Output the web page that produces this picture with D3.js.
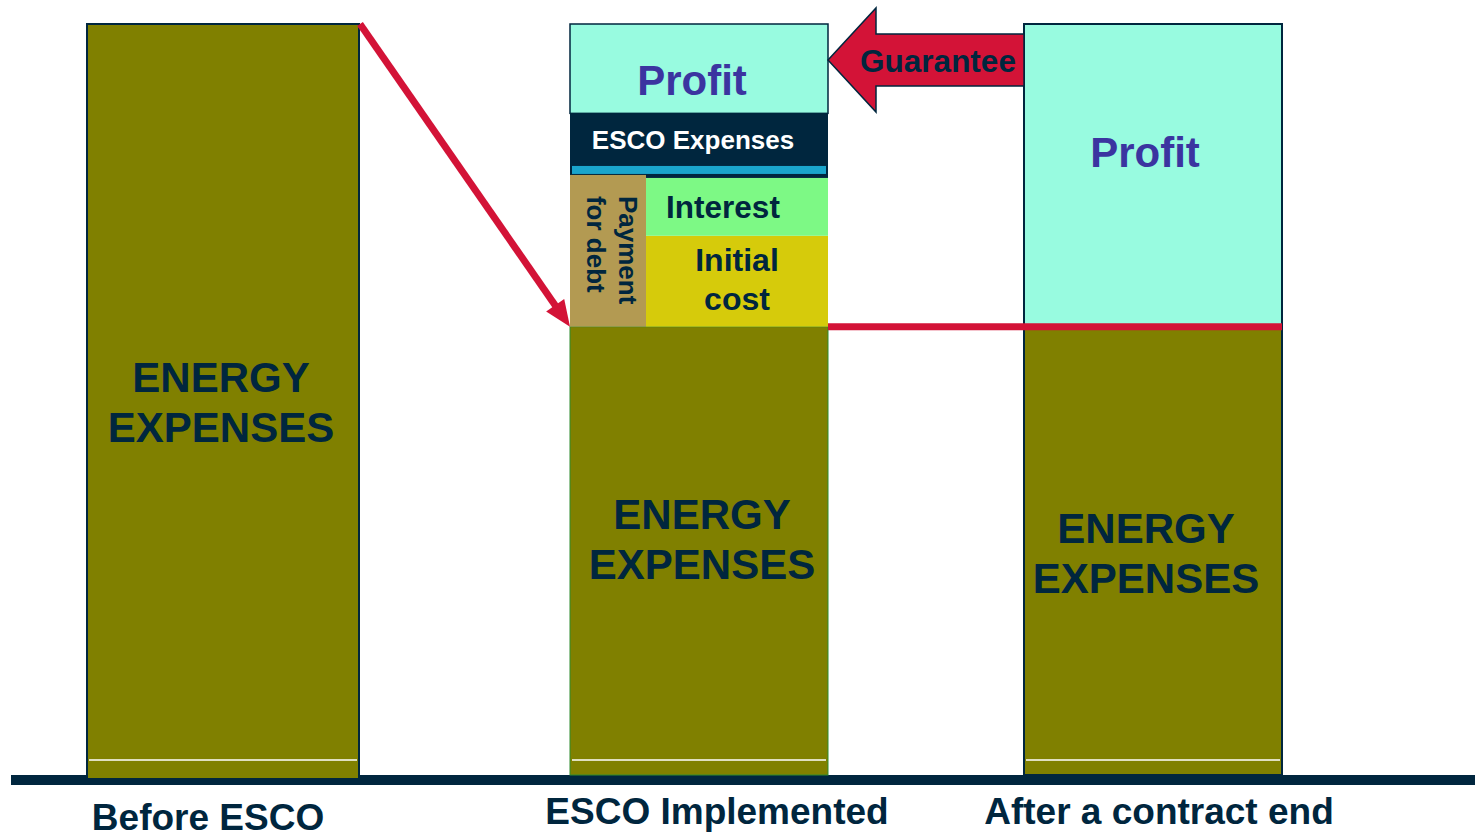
<!DOCTYPE html>
<html>
<head>
<meta charset="utf-8">
<script src="https://cdn.jsdelivr.net/npm/d3@7"></script>
<style>
  body { margin: 0; background: #fff; }
  svg { display: block; font-family: "Liberation Sans", Arial, sans-serif; font-weight: bold; }
</style>
</head>
<body>
<div id="chart"></div>
<script>
// data
const columns = ["Before ESCO", "ESCO Implemented", "After a contract end"];
const energyExpenses = [100, 59.7, 59.7];
const initialCost = [0, 12.1, 0];
const interest = [0, 7.7, 0];
const escoExpenses = [0, 8.6, 0];
const profit = [0, 11.9, 40.3];
const segmentKeys = ["energy", "initial", "interest", "esco", "profit"];
const segmentLabels = {
    energy: ["ENERGY", "EXPENSES"],
    initial: ["Initial", "cost"],
    interest: ["Interest"],
    esco: ["ESCO Expenses"],
    profit: ["Profit"]
};
const debtLabel = ["Payment", "for debt"];
const guaranteeLabel = "Guarantee";

// styles / layout
const navy = '#00263E', red = '#D31337';
const fills = { energy: '#808000', initial: '#D6CB0B', interest: '#7DF985', esco: '#00263E', profit: '#98FBE0' };
const textColor = { energy: navy, initial: navy, interest: navy, esco: '#FFFFFF', profit: '#3B34A0' };
const fontSize = { energy: 42, initial: 32, interest: 31.5, esco: 26, profit: 42 };
const lineH = { energy: 50, initial: 39, interest: 0, esco: 0, profit: 0 };
// label nudges [dx, dy] per key + column index
const nudge = {
    'energy-0': [-2, 2], 'energy-1': [3, -12], 'energy-2': [-7, 2],
    'profit-1': [-7, 11], 'profit-2': [-8, -23],
    'esco-1': [-6, -6], 'interest-1': [-14, 0], 'initial-1': [0, -2]
};
const debtColW = 76;

const width = 1475, height = 834;

const x = d3.scaleOrdinal().domain(columns).range([87, 570, 1024]);
const w = d3.scaleOrdinal().domain(columns).range([272, 258, 258]);
const overhang = d3.scaleOrdinal().domain(columns).range([4, 0, 0]);
const y = d3.scaleLinear().domain([0, 100]).range([775, 24]);

const rows = columns.map((c, i) => ({
    col: c, idx: i,
    energy: energyExpenses[i], initial: initialCost[i], interest: interest[i],
    esco: escoExpenses[i], profit: profit[i]
}));
const series = d3.stack().keys(segmentKeys)(rows);

const svg = d3.select('#chart').append('svg')
    .attr('width', width)
    .attr('height', height);

// baseline
svg.append('rect')
    .attr('x', 11).attr('y', y(0))
    .attr('width', width - 11).attr('height', 10)
    .attr('fill', navy);

// stacked segments
series.forEach(s => {
    const key = s.key;
    s.forEach(d => {
        if (d[1] - d[0] <= 0) return;
        const col = d.data.col;
        let x0 = x(col), sw = w(col);
        if (key == 'initial' || key == 'interest') { x0 += debtColW; sw -= debtColW; }
        const yTop = y(d[1]);
        const yBot = y(d[0]) + (key == 'energy' ? overhang(col) : 0);
        const r = svg.append('rect')
            .attr('x', x0).attr('y', yTop)
            .attr('width', sw).attr('height', yBot - yTop)
            .attr('fill', fills[key]);
        if (key == 'profit') r.attr('stroke', navy).attr('stroke-width', 1.5);
        if (key == 'energy' && d.data.idx == 1) r.attr('stroke', '#2E8B2E').attr('stroke-width', 1);
        if (key == 'esco') {
            // blue strip near the bottom of the ESCO block
            svg.append('rect')
                .attr('x', x0 + 2).attr('y', yBot - 12)
                .attr('width', sw - 4).attr('height', 8)
                .attr('fill', '#1AA5CC');
        }
        if (key == 'energy') {
            svg.append('line')
                .attr('x1', x0 + 2).attr('x2', x0 + sw - 2)
                .attr('y1', y(2)).attr('y2', y(2))
                .attr('stroke', '#fff').attr('stroke-width', 1.5);
        }
    });
});

// payment for debt column (spans initial + interest)
rows.forEach(r => {
    if (r.initial + r.interest <= 0) return;
    const yBot = y(r.energy), yTop = y(r.energy + r.initial + r.interest) - 3;
    svg.append('rect')
        .attr('x', x(r.col)).attr('y', yTop)
        .attr('width', debtColW).attr('height', yBot - yTop)
        .attr('fill', '#B39A52');
    const g = svg.append('g')
        .attr('transform', 'translate(' + x(r.col) + ',' + (yTop + 21) + ') rotate(90)');
    debtLabel.forEach((t, i) => {
        g.append('text')
            .attr('x', 0).attr('y', -49 + i * 32)
            .attr('font-size', 26)
            .attr('fill', navy)
            .text(t);
    });
});

// outlines for single-segment style bars
[0, 2].forEach(i => {
    const c = columns[i];
    svg.append('rect')
        .attr('x', x(c)).attr('y', y(100))
        .attr('width', w(c)).attr('height', y(0) + overhang(c) - y(100))
        .attr('fill', 'none')
        .attr('stroke', navy).attr('stroke-width', 2);
});

// segment labels
series.forEach(s => {
    const key = s.key;
    s.forEach(d => {
        if (d[1] - d[0] <= 0) return;
        const col = d.data.col;
        let x0 = x(col), sw = w(col);
        if (key == 'initial' || key == 'interest') { x0 += debtColW; sw -= debtColW; }
        const n = nudge[key + '-' + d.data.idx] || [0, 0];
        const cx = x0 + sw / 2 + n[0];
        const cy = (y(d[0]) + y(d[1])) / 2 + n[1];
        const lines = segmentLabels[key];
        lines.forEach((t, i) => {
            svg.append('text')
                .attr('x', cx)
                .attr('y', cy + (i - (lines.length - 1) / 2) * lineH[key] + 0.36 * fontSize[key])
                .attr('text-anchor', 'middle')
                .attr('font-size', fontSize[key])
                .attr('fill', textColor[key])
                .text(t);
        });
    });
});

// guarantee level line
const guaranteeY = y(energyExpenses[1]);
svg.append('line')
    .attr('x1', x(columns[1]) + w(columns[1]))
    .attr('x2', x(columns[2]) + w(columns[2]))
    .attr('y1', guaranteeY).attr('y2', guaranteeY)
    .attr('stroke', red).attr('stroke-width', 7);

// diagonal arrow from before bar to ESCO energy top
const p0 = [x(columns[0]) + w(columns[0]) + 1, y(energyExpenses[0])];
const p1 = [x(columns[1]), y(energyExpenses[1])];
const dx = p1[0] - p0[0], dy = p1[1] - p0[1];
const len = Math.sqrt(dx * dx + dy * dy);
const ux = dx / len, uy = dy / len;
const headL = 26, headW = 11;
const base = [p1[0] - ux * headL, p1[1] - uy * headL];
svg.append('line')
    .attr('x1', p0[0]).attr('y1', p0[1])
    .attr('x2', base[0] + ux * 2).attr('y2', base[1] + uy * 2)
    .attr('stroke', red).attr('stroke-width', 7);
svg.append('path')
    .attr('d', 'M' + p1[0] + ',' + p1[1] +
        'L' + (base[0] - uy * headW) + ',' + (base[1] + ux * headW) +
        'L' + (base[0] + uy * headW) + ',' + (base[1] - ux * headW) + 'Z')
    .attr('fill', red);

// guarantee arrow
const tipX = x(columns[1]) + w(columns[1]), tipY = 60;
const tailX = x(columns[2]);
const arrowPts = [
    [tipX, tipY], [tipX + 48, tipY - 52], [tipX + 48, tipY - 26],
    [tailX, tipY - 26], [tailX, tipY + 26], [tipX + 48, tipY + 26], [tipX + 48, tipY + 52]
];
svg.append('path')
    .attr('d', d3.line()(arrowPts) + 'Z')
    .attr('fill', red)
    .attr('stroke', navy).attr('stroke-width', 1.5);
svg.append('text')
    .attr('x', (tipX + 32 + tailX) / 2 - 4).attr('y', tipY + 12)
    .attr('text-anchor', 'middle')
    .attr('font-size', 31.5)
    .attr('fill', navy)
    .text(guaranteeLabel);

// column labels
const labelDx = d3.scaleOrdinal().domain(columns).range([-15, 18, 6]);
const labelY = d3.scaleOrdinal().domain(columns).range([830, 824, 824]);
columns.forEach(c => {
    svg.append('text')
        .attr('x', x(c) + w(c) / 2 + labelDx(c))
        .attr('y', labelY(c))
        .attr('text-anchor', 'middle')
        .attr('font-size', 37)
        .attr('fill', navy)
        .text(c);
});
</script>
</body>
</html>
